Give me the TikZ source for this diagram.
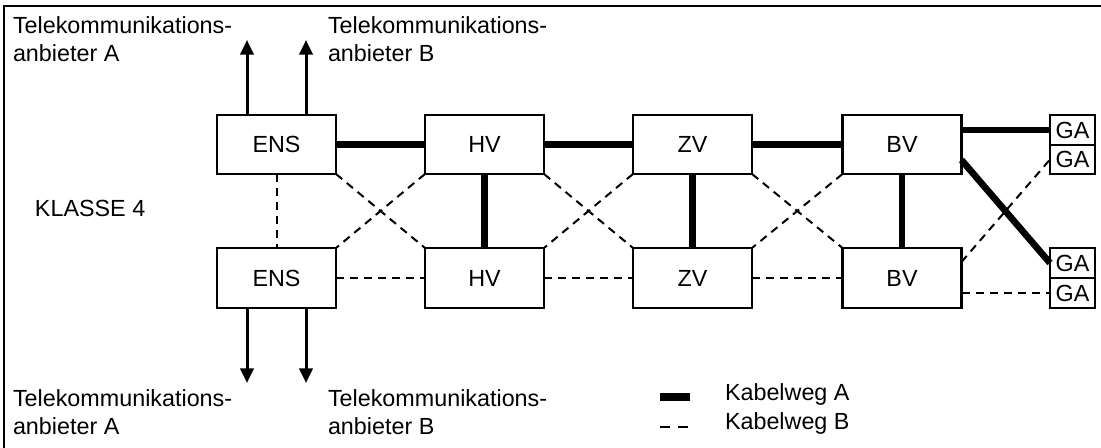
\documentclass[tikz,border=0pt]{standalone}
\usepackage{fontspec}
\setmainfont{Liberation Sans}
\usetikzlibrary{arrows.meta,calc}
\begin{document}
\begin{tikzpicture}[x=0.75pt,y=-0.75pt,
  every node/.style={font=\fontsize{17.5}{21.4}\selectfont, inner sep=0pt, outer sep=0pt},
  box/.style={draw, line width=2pt, minimum width=89.25pt, minimum height=44.25pt},
  gabox/.style={draw, line width=1.6pt, minimum width=33.75pt, minimum height=22pt},
  wegA/.style={line width=5pt},
  wegB/.style={line width=1.5pt, dash pattern=on 6pt off 4.5pt},
  arr/.style={line width=2.25pt, -{Triangle[length=11pt,width=10pt]}},
  lbl/.style={align=left, anchor=base west},
  frame/.style={line width=1.5pt}]
\path[use as bounding box] (0,0) rectangle (1101,448);
\draw[frame] (1101,6) -- (4,6) -- (4,448);

% boxes
\node[box] (ens1) at (276.5,144.5) {ENS};
\node[box] (hv1) at (484.5,144.5) {HV};
\node[box] (zv1) at (692.5,144.5) {ZV};
\node[box] (bv1) at (902,144.5) {BV};
\node[box, minimum height=45pt] (ens2) at (276.5,278) {ENS};
\node[box, minimum height=45pt] (hv2) at (484.5,278) {HV};
\node[box, minimum height=45pt] (zv2) at (692.5,278) {ZV};
\node[box, minimum height=45pt] (bv2) at (902,278) {BV};
\node[gabox] (ga1) at (1072.5,130) {GA};
\node[gabox] (ga2) at (1072.5,159.5) {GA};
\node[gabox] (ga3) at (1072.5,263) {GA};
\node[gabox] (ga4) at (1072.5,293) {GA};

% Kabelweg A
\draw[wegA] (ens1.east) -- (hv1.west);
\draw[wegA] (hv1.east) -- (zv1.west);
\draw[wegA] (zv1.east) -- (bv1.west);
\draw[wegA] (bv1.east |- ga1.west) -- (ga1.west);
\draw[wegA] (hv1.south) -- (hv2.north);
\draw[wegA] (zv1.south) -- (zv2.north);
\draw[wegA] (bv1.south) -- (bv2.north);
\draw[wegA] ($(bv1.south east)+(0,-14)$) -- (ga3.west);

% Kabelweg B
\draw[wegB] (ens1.south) -- (ens2.north);
\draw[wegB] (ens2.east) -- (hv2.west);
\draw[wegB] (hv2.east) -- (zv2.west);
\draw[wegB] (zv2.east) -- (bv2.west);
\draw[wegB] (bv2.east |- ga4.west) -- (ga4.west);
\draw[wegB] ($(bv2.north east)+(0,14)$) -- (ga2.west);
\draw[wegB] (ens1.south east) -- (hv2.north west);
\draw[wegB] (hv1.south west) -- (ens2.north east);
\draw[wegB] (hv1.south east) -- (zv2.north west);
\draw[wegB] (zv1.south west) -- (hv2.north east);
\draw[wegB] (zv1.south east) -- (bv2.north west);
\draw[wegB] (bv1.south west) -- (zv2.north east);

% arrows to providers
\coordinate (upA) at (247,40);
\coordinate (upB) at (306,40);
\coordinate (dnA) at (247,383);
\coordinate (dnB) at (306,383);
\draw[arr] (ens1.north -| upA) -- (upA);
\draw[arr] (ens1.north -| upB) -- (upB);
\draw[arr] (ens2.south -| dnA) -- (dnA);
\draw[arr] (ens2.south -| dnB) -- (dnB);

% labels (base anchor = last line)
\node[lbl] (tA) at (13,62) {Telekommunikations-\\anbieter A};
\node[lbl] (tB) at (328,62) {Telekommunikations-\\anbieter B};
\node[lbl] (bA) at (13,435) {Telekommunikations-\\anbieter A};
\node[lbl] (bB) at (328,435) {Telekommunikations-\\anbieter B};
\node[anchor=base west] (kl) at (35,217) {KLASSE 4};

% legend
\coordinate (la1) at (660,397);
\coordinate (la2) at (690,397);
\draw[line width=6pt] (la1) -- (la2);
\coordinate (lb1) at (660,427);
\coordinate (lb2) at (688,427);
\draw[line width=1.5pt, dash pattern=on 7.5pt off 6pt] (lb1) -- (lb2);
\node[anchor=base west] (kA) at (725,401) {Kabelweg A};
\node[anchor=base west] (kB) at (725,430) {Kabelweg B};
\end{tikzpicture}
\end{document}
